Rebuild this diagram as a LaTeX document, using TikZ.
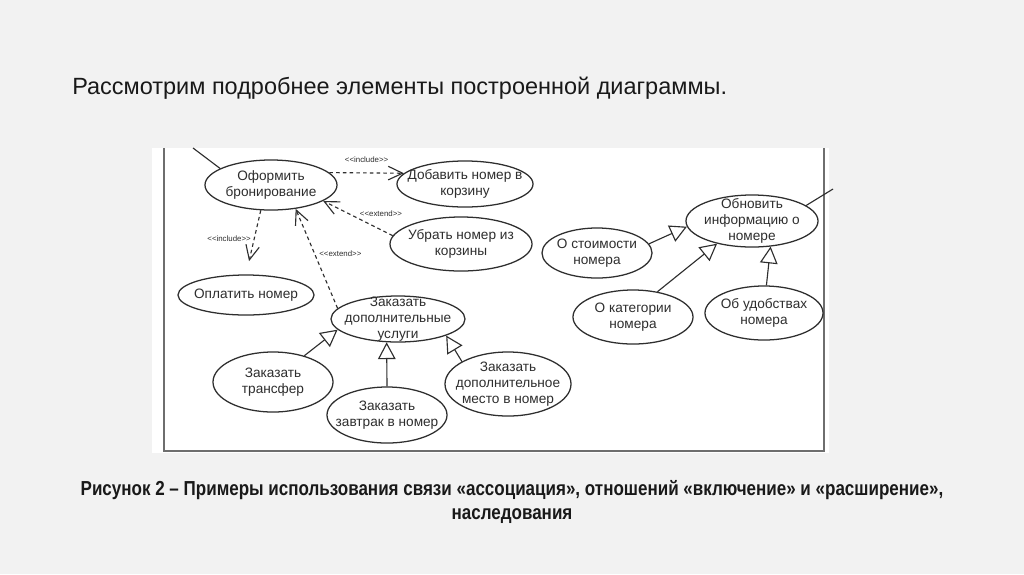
\documentclass[tikz,border=0pt]{standalone}
\usepackage{fontspec}
\setmainfont{Liberation Sans}
\newfontfamily\capfont[FakeStretch=0.84]{Liberation Sans}
\usepackage{tikz}
\usetikzlibrary{positioning,arrows.meta,calc,shapes.geometric}

\definecolor{slidebg}{HTML}{F2F2F2}
\definecolor{ink}{HTML}{2E2E2E}
\definecolor{framegray}{HTML}{6E6E6E}

% stereotype text without the << >> ligature
\newcommand{\stereotxt}[1]{<\kern0pt<#1>\kern0pt>}

\begin{document}
\begin{tikzpicture}[
    x=0.025cm, y=-0.025cm,
    uc/.style={draw=ink, line width=0.9pt, ellipse, inner sep=-10pt, align=center,
               text=ink, font=\fontsize{9.7}{11.3}\selectfont},
    dep/.style={-{Straight Barb[length=3.6mm, width=3.4mm]}, ink, line width=0.8pt,
                dash pattern=on 2.6pt off 2.2pt},
    gen/.style={-{Triangle[open, length=4.2mm, width=4.4mm, fill=white]}, ink, line width=0.8pt},
    assoc/.style={ink, line width=0.8pt},
    stereo/.style={font=\fontsize{5.6}{7}\selectfont, text=ink, inner sep=1pt},
    frame/.style={framegray, line width=1.4pt},
  ]
  % slide and white panel
  \fill[slidebg] (0,0) rectangle (1024,574);
  \fill[white] (152,148) rectangle (829,453);
  \draw[frame] (164,148) -- (164,451) -- (824,451) -- (824,148);

  \node[anchor=west, inner sep=0pt, text=black!90, font=\fontsize{16.7}{19}\selectfont] (ttl) at (72,88)
    {Рассмотрим подробнее элементы построенной диаграммы.};

  % left part
  \node[uc, minimum width=3.3cm, minimum height=1.25cm] (book) at (271,185) {Оформить\\бронирование};
  \node[uc, minimum width=3.4cm, minimum height=1.15cm] (addcart) at (465,184) {Добавить номер в\\корзину};
  \node[uc, minimum width=3.55cm, minimum height=1.35cm] (remcart) at (461,244) {Убрать номер из\\корзины};
  \node[uc, minimum width=3.4cm, minimum height=1.0cm] (pay) at (246,295) {Оплатить номер};
  \node[uc, minimum width=3.35cm, minimum height=1.15cm] (extra) at (398,319) {Заказать\\дополнительные\\услуги};
  \node[uc, minimum width=3.0cm, minimum height=1.5cm] (transfer) at (273,382) {Заказать\\трансфер};
  \node[uc, minimum width=3.0cm, minimum height=1.4cm] (breakfast) at (387,415) {Заказать\\завтрак в номер};
  \node[uc, minimum width=3.15cm, minimum height=1.6cm] (bed) at (508,384) {Заказать\\дополнительное\\место в номер};

  % right part
  \node[uc, minimum width=3.3cm, minimum height=1.3cm] (update) at (752,221) {Обновить\\информацию о\\номере};
  \node[uc, minimum width=2.75cm, minimum height=1.25cm] (price) at (597,253) {О стоимости\\номера};
  \node[uc, minimum width=3.0cm, minimum height=1.35cm] (categ) at (633,317) {О категории\\номера};
  \node[uc, minimum width=2.95cm, minimum height=1.35cm] (amen) at (764,313) {Об удобствах\\номера};

  % actors are outside the panel
  \coordinate (actL) at (193,148);
  \coordinate (actR) at (833,189);
  \draw[assoc] (actL) -- (book.162);
  \draw[assoc] (update.16) -- (actR);

  \draw[dep] (book.12) -- node[stereo, above=6pt] {\stereotxt{include}} (addcart.170);
  \draw[dep] (remcart.173) -- node[stereo, pos=0.5, anchor=south west] {\stereotxt{extend}} (book.-17);
  \draw[dep, shorten >=3.4mm] (book.248) -- node[stereo, pos=0.45, left=1pt] {\stereotxt{include}} (pay.north);
  \draw[dep] (extra.170) -- node[stereo, pos=0.55, right=2pt] {\stereotxt{extend}} (book.-44);

  \draw[gen] (transfer.40) -- (extra.190);
  \draw[gen] (breakfast.north) -- (extra.244);
  \draw[gen] (bed.154) -- (extra.-19);

  \draw[gen] (price.10) -- (update.185);
  \draw[gen] (categ.46) -- (update.213);
  \draw[gen] (amen.85) -- (update.-54);

  \node[font=\capfont\bfseries\fontsize{14.4}{16}\selectfont, text=black!90] (cap1) at (512,490)
    {Рисунок 2 – Примеры использования связи «ассоциация», отношений «включение» и «расширение»,};
  \node[font=\capfont\bfseries\fontsize{14.4}{16}\selectfont, text=black!90] (cap2) at (512,516)
    {наследования};
\end{tikzpicture}
\end{document}
